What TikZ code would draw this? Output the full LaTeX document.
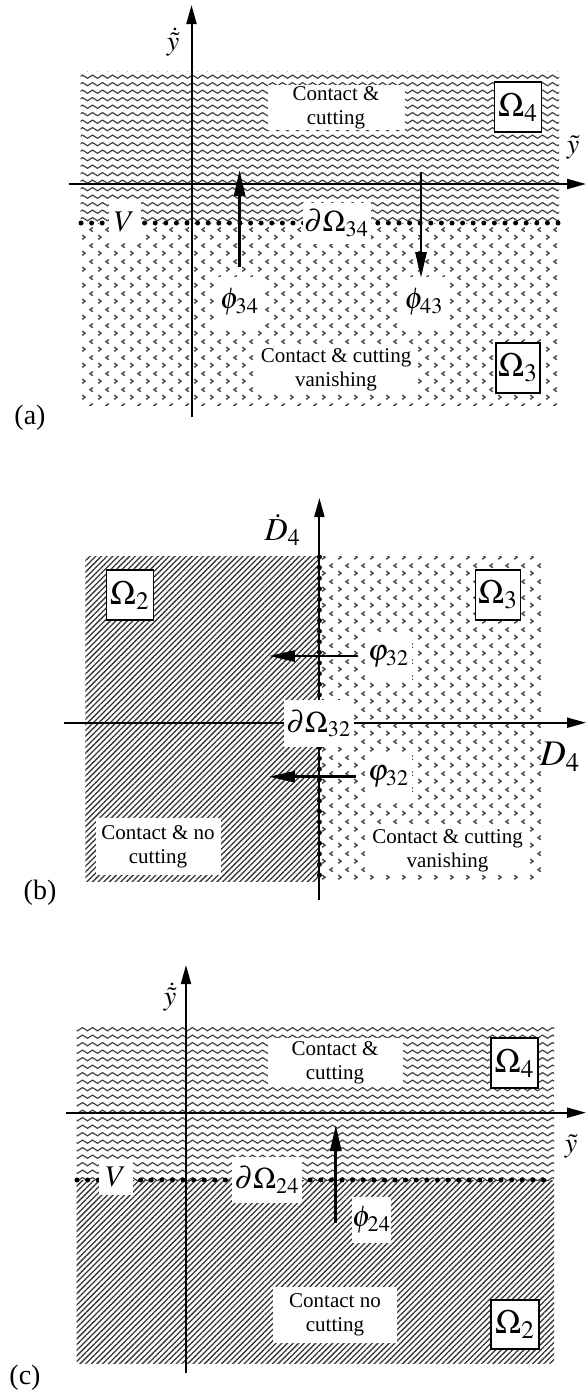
\documentclass[tikz,border=0pt]{standalone}
\usepackage{amsmath}
\usepackage{mathptmx}
\usepackage{fontspec}
\setmainfont{Liberation Serif}
\usepackage{tikz}
\usetikzlibrary{patterns, patterns.meta, arrows.meta, positioning}

\tikzdeclarepattern{
  name=waves,
  type=uncolored,
  bounding box={(-0.5pt,-0.5pt) and (5.5pt,4.25pt)},
  tile size={(5pt,3.75pt)},
  code={
    \tikzset{x=1pt,y=1pt}
    \draw[line width=0.6pt] (0,1.9) sin (1.25,2.7) cos (2.5,1.9) sin (3.75,1.1) cos (5,1.9);
  }
}
\tikzdeclarepattern{
  name=chevrons,
  type=uncolored,
  bounding box={(0pt,0pt) and (8pt,8pt)},
  tile size={(8pt,8pt)},
  code={
    \tikzset{x=1pt,y=1pt}
    \draw[line width=0.7pt] (1.2,3.1) -- (2.7,2) -- (1.2,0.9);
    \draw[line width=0.7pt] (6.8,7.1) -- (5.3,6) -- (6.8,4.9);
  }
}

\begin{document}
\begin{tikzpicture}[x=0.5pt, y=-0.5pt,
  every node/.style={inner sep=0pt, align=center},
  txt/.style={fill=white, font=\fontsize{10.5}{12}\selectfont},
  mlbl/.style={fill=white, font=\fontsize{15}{17}\selectfont},
  omega/.style={draw, fill=white, line width=0.8pt, font=\fontsize{17}{19}\selectfont},
  tag/.style={font=\fontsize{14}{16}\selectfont},
  axis/.style={line width=1pt, -{Triangle[length=9.5pt, width=5pt]}},
  flow/.style={line width=1.4pt, -{Triangle[length=13pt, width=5.5pt]}},
  bound/.style={line width=2.5pt, line cap=round, dash pattern=on 0pt off 5.3pt},
  wavy/.style={pattern=waves, pattern color=black!75},
  dotty/.style={pattern=chevrons, pattern color=black!75},
  hatch/.style={pattern={Lines[angle=45, distance=2pt, line width=0.65pt]}, pattern color=black!80}]
  \useasboundingbox (0,0) rectangle (587,1393);

  % (a) regions 4 and 3
  \fill[wavy] (80.5,71) rectangle (559,223);
  \fill[dotty] (80.5,223) rectangle (559,405);
  \coordinate (aBl) at (81,223);
  \coordinate (aBr) at (558,223);
  \draw[bound] (aBl) -- (aBr);
  \coordinate (aAxB) at (191.5,417);
  \coordinate (aAxT) at (191.5,5);
  \coordinate (aAxL) at (68.5,184);
  \coordinate (aAxR) at (586,184);
  \draw[axis] (aAxB) -- (aAxT);
  \draw[axis] (aAxL) -- (aAxR);
  \coordinate (a34s) at (239.6,267);
  \coordinate (a34e) at (239.6,170);
  \coordinate (a43s) at (421,172);
  \coordinate (a43e) at (421,278);
  \draw[flow] (a34s) -- (a34e);
  \draw[flow] (a43s) -- (a43e);
  \node (aYdot) [tag] at (173,42) {$\dot{\tilde{y}}$};
  \node (aYtil) [tag] at (573,148) {$\tilde{y}$};
  \node (aTop) [txt, minimum width=68.5pt, minimum height=22.5pt] at (336,107.5) {Contact \&\\cutting};
  \node (aOm4) [omega, minimum width=23.5pt, minimum height=25pt] at (518,107) {$\Omega_4$};
  \node (aV) [mlbl, minimum width=16pt, minimum height=20.5pt] at (124.5,222) {$V$};
  \node (aBd) [mlbl, minimum width=34pt, minimum height=20.5pt] at (336.5,223) {$\partial\Omega_{34}$};
  \node (aP34) [mlbl, minimum width=22.5pt, minimum height=25.5pt] at (239.5,302) {$\phi_{34}$};
  \node (aP43) [mlbl, minimum width=23.5pt, minimum height=25.5pt] at (424,302) {$\phi_{43}$};
  \node (aBot) [txt, minimum width=81.5pt, minimum height=23pt] at (336,370) {Contact \& cutting\\vanishing};
  \node (aOm3) [omega, minimum width=22pt, minimum height=25pt] at (518,368) {$\Omega_3$};
  \node (aTag) [tag] at (30,418) {(a)};

  % (b) regions 2 and 3
  \fill[hatch] (85.4,556) rectangle (319.4,881);
  \fill[dotty] (319.4,556) rectangle (541,881);
  \coordinate (bBt) at (319.4,557);
  \coordinate (bBb) at (319.4,880);
  \draw[bound] (bBt) -- (bBb);
  \coordinate (bAxB) at (319.4,900);
  \coordinate (bAxT) at (319.4,498);
  \coordinate (bAxL) at (63.6,722.7);
  \coordinate (bAxR) at (586,722.7);
  \draw[axis] (bAxB) -- (bAxT);
  \draw[axis] (bAxL) -- (bAxR);
  \coordinate (b1s) at (357.5,656);
  \coordinate (b1e) at (268.8,656);
  \coordinate (b2s) at (355.7,776.7);
  \coordinate (b2e) at (268.8,776.7);
  \draw[flow] (b1s) -- (b1e);
  \draw[flow] (b2s) -- (b2e);
  \node (bDdot) [tag, font=\fontsize{16}{18}\selectfont] at (282.7,530) {$\dot{D}_4$};
  \node (bD) [tag, font=\fontsize{18}{20}\selectfont] at (560,757) {$D_4$};
  \node (bBd) [mlbl, minimum width=35pt, minimum height=23.5pt] at (318.8,723.3) {$\partial\Omega_{32}$};
  \node (bOm2) [omega, minimum width=23.5pt, minimum height=25pt] at (129.8,595) {$\Omega_2$};
  \node (bOm3) [omega, minimum width=22.5pt, minimum height=25pt] at (498,595) {$\Omega_3$};
  \node (bP1) [mlbl, minimum width=23.5pt, minimum height=23.5pt] at (388.5,656.5) {$\varphi_{32}$};
  \node (bP2) [mlbl, minimum width=23.5pt, minimum height=23.5pt] at (388.5,776.5) {$\varphi_{32}$};
  \node (bLeft) [txt, minimum width=62.5pt, minimum height=28.5pt] at (158,846.5) {Contact \& no\\cutting};
  \node (bRight) [txt, minimum width=82.5pt, minimum height=24pt] at (447.5,851) {Contact \& cutting\\vanishing};
  \node (bTag) [tag] at (40,893) {(b)};

  % (c) regions 4 and 2
  \fill[wavy] (76.7,1027) rectangle (554,1180);
  \fill[hatch] (76.7,1180) rectangle (554,1363);
  \coordinate (cBl) at (77,1180);
  \coordinate (cBr) at (553,1180);
  \draw[bound] (cBl) -- (cBr);
  \coordinate (cAxB) at (186,1373);
  \coordinate (cAxT) at (186,965);
  \coordinate (cAxL) at (65.5,1112.7);
  \coordinate (cAxR) at (586,1112.7);
  \draw[axis] (cAxB) -- (cAxT);
  \draw[axis] (cAxL) -- (cAxR);
  \coordinate (c24s) at (335.8,1223);
  \coordinate (c24e) at (335.8,1125);
  \draw[flow] (c24s) -- (c24e);
  \node (cYdot) [tag] at (170,997) {$\dot{\tilde{y}}$};
  \node (cYtil) [tag] at (571,1147) {$\tilde{y}$};
  \node (cTop) [txt, minimum width=67.5pt, minimum height=24.5pt] at (335,1062.5) {Contact \&\\cutting};
  \node (cOm4) [omega, minimum width=23.5pt, minimum height=25pt] at (514.5,1063) {$\Omega_4$};
  \node (cV) [mlbl, minimum width=17pt, minimum height=17.5pt] at (116,1177.5) {$V$};
  \node (cBd) [mlbl, minimum width=35pt, minimum height=23pt] at (267,1180) {$\partial\Omega_{24}$};
  \node (cP24) [mlbl, minimum width=19.5pt, minimum height=23pt] at (371.5,1220) {$\phi_{24}$};
  \node (cBot) [txt, minimum width=62pt, minimum height=28pt] at (335,1315) {Contact no\\cutting};
  \node (cOm2) [omega, minimum width=24pt, minimum height=24.5pt] at (515,1324.5) {$\Omega_2$};
  \node (cTag) [tag] at (25,1378) {(c)};
\end{tikzpicture}
\end{document}
